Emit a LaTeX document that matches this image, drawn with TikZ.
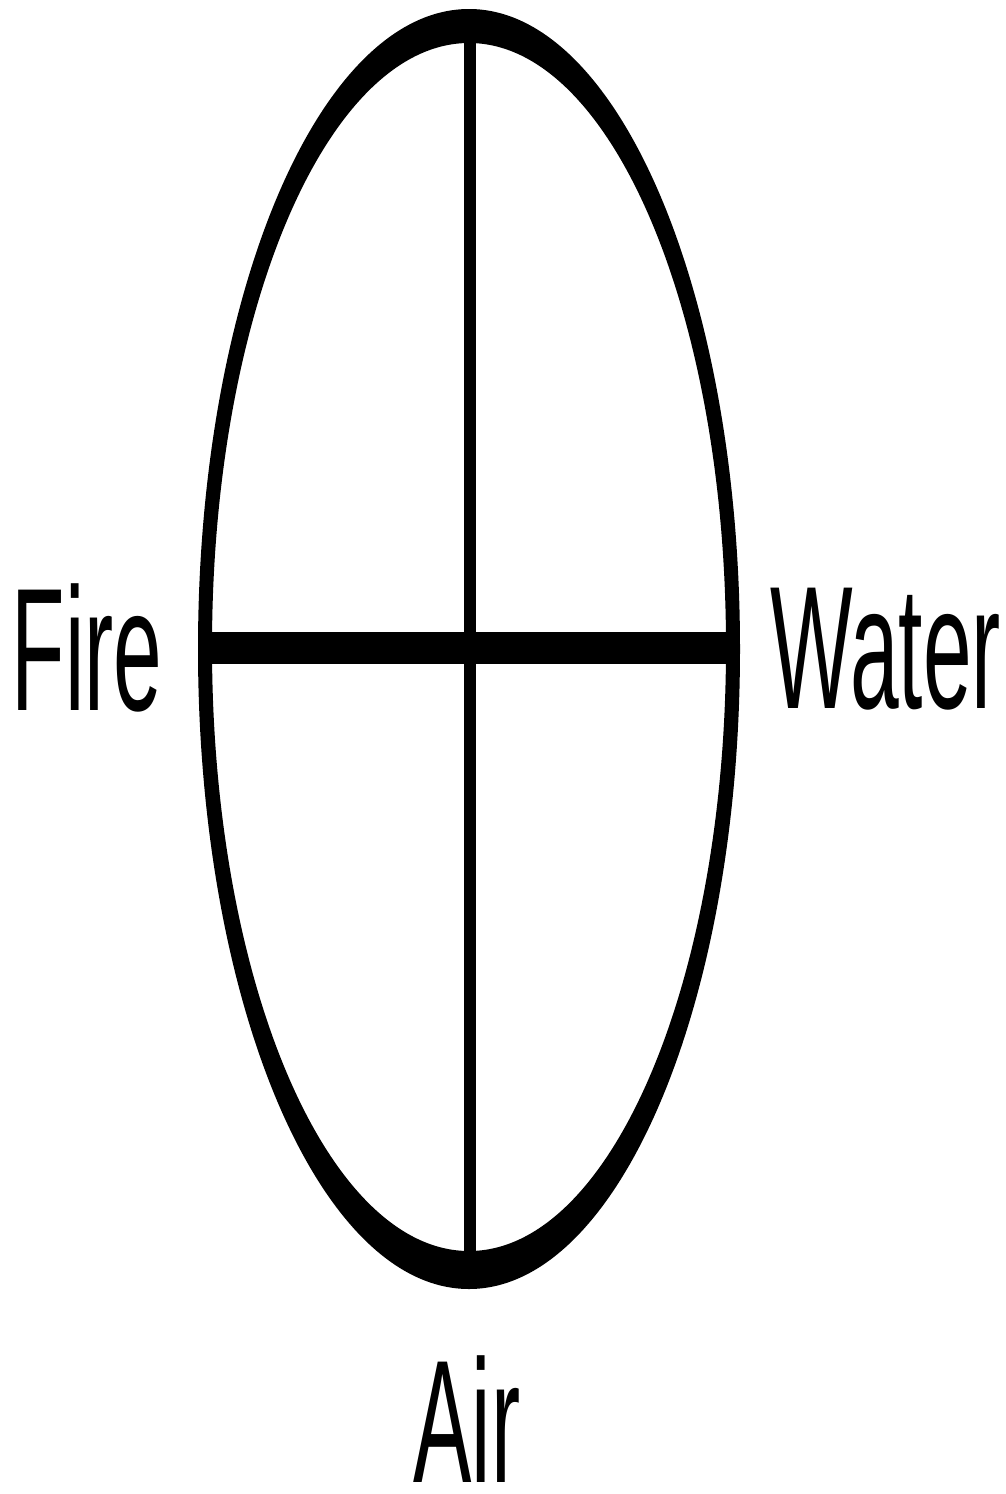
\documentclass[tikz,border=0pt]{standalone}
\usepackage{fontspec}
\usepackage{graphicx}
\setmainfont{Liberation Sans}
\tikzset{
  lbl/.style={inner sep=0pt, anchor=base, font=\fontsize{175}{175}\selectfont},
}
\newcommand{\cond}[1]{\scalebox{0.5}[1]{#1}}
\begin{document}
\begin{tikzpicture}[x=1pt,y=-1pt]
\useasboundingbox (0,0) rectangle (1006,1494);
% ring (stretched ellipse)
\fill[black, even odd rule] (469,649) ellipse [x radius=271, y radius=640]
                            (469,647) ellipse [x radius=257, y radius=604];
% vertical axis
\draw[line width=12pt] (470,30) -- (470,1270);
% horizontal bar
\fill (206,632) rectangle (734,664);
% labels
\node[lbl] (fire) at (87,710) {\cond{Fire}};
\node[lbl] (water) at (886,708) {\cond{Water}};
\node[lbl] (air) at (467,1482) {\cond{Air}};
\end{tikzpicture}
\end{document}
